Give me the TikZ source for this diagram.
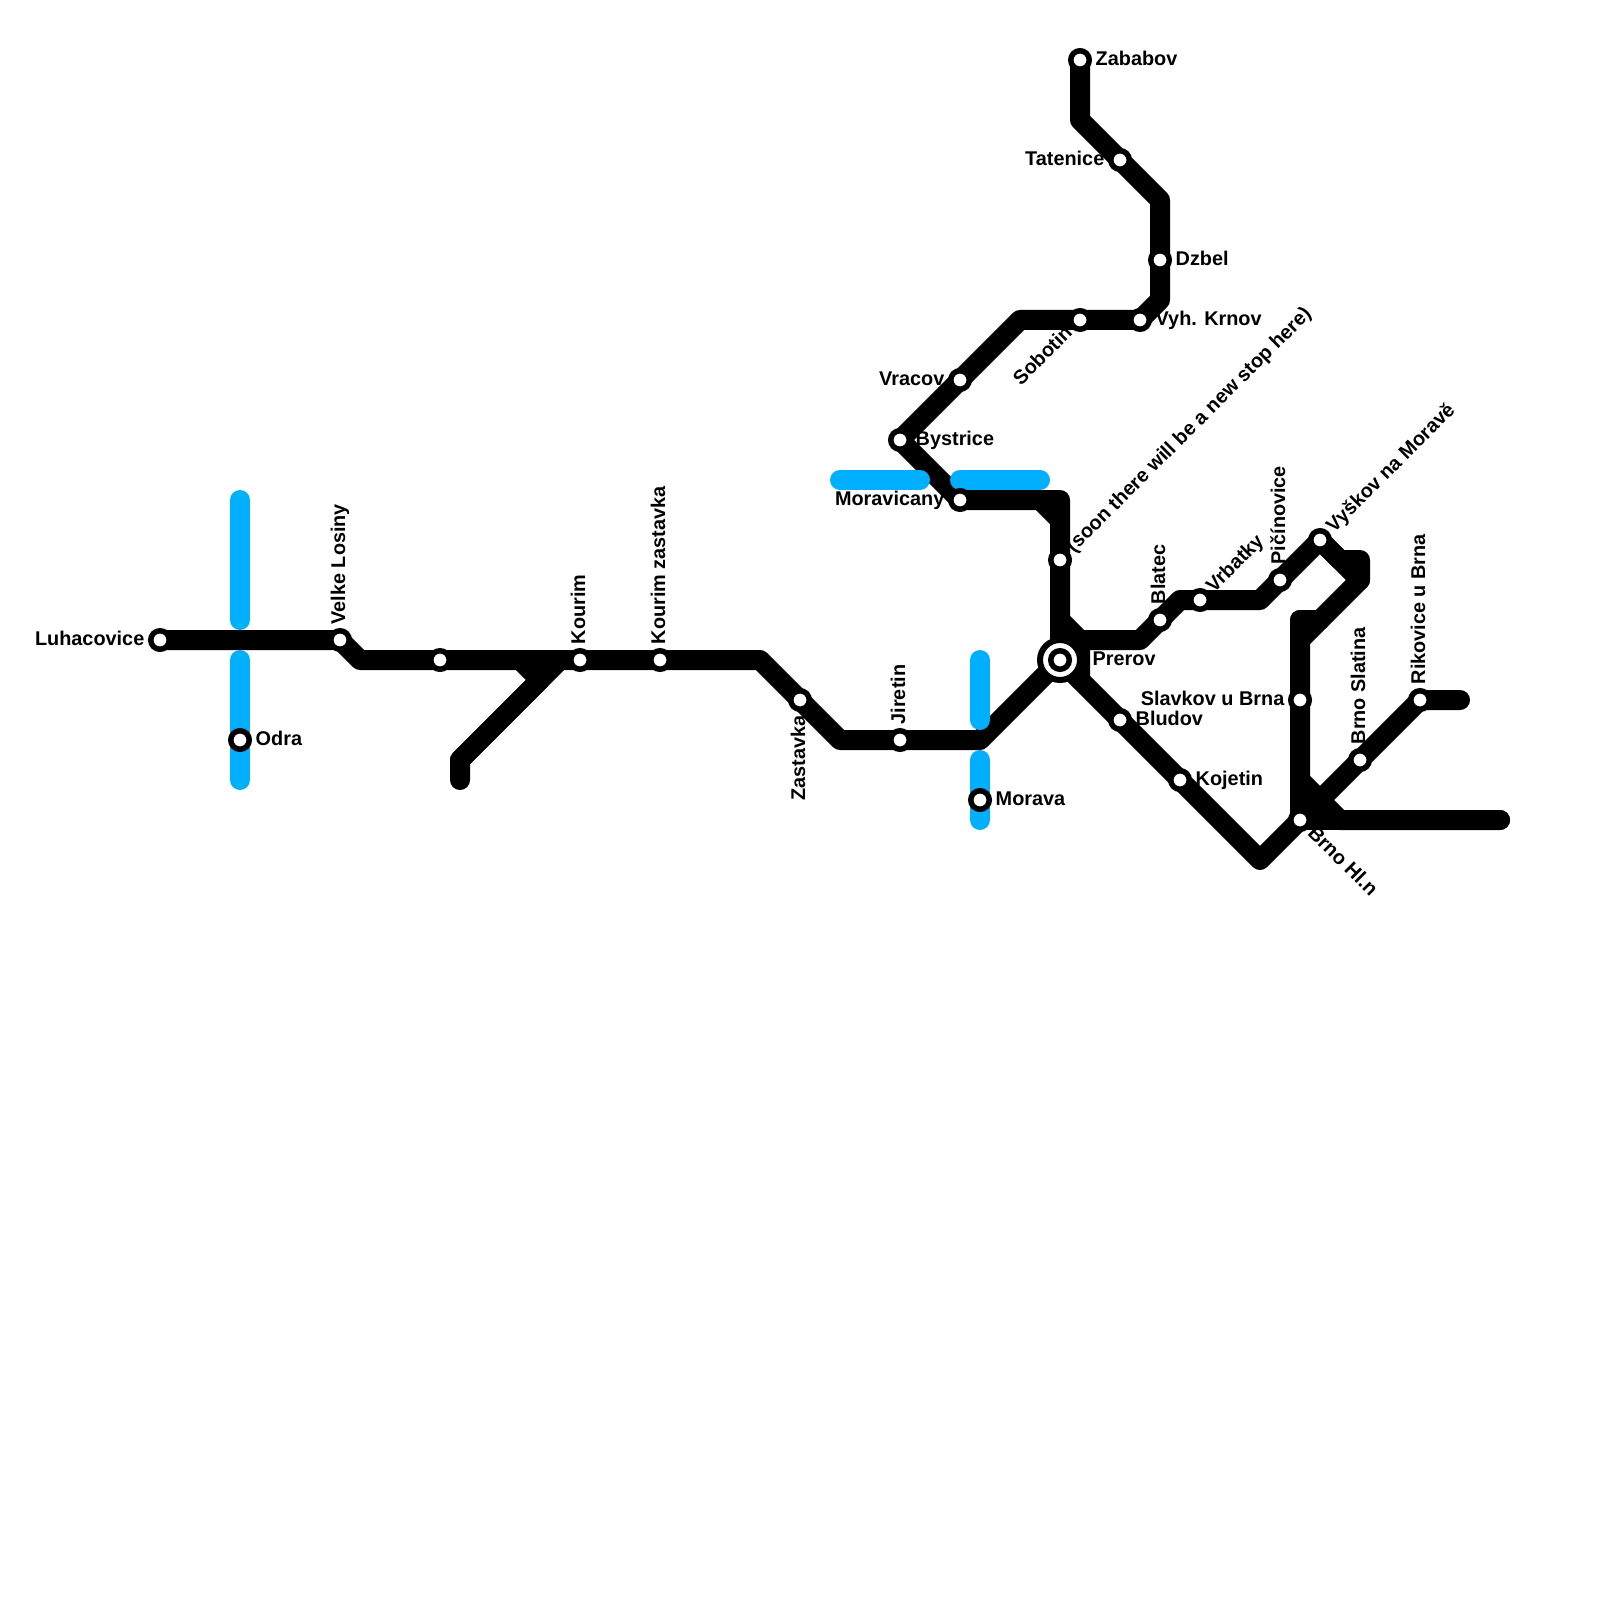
\documentclass[tikz,border=0pt]{standalone}
\usepackage{xcolor}
\usepackage{fontspec}
\setmainfont{Liberation Sans}
\usepackage{tikz}
\usetikzlibrary{positioning}
\definecolor{riverblue}{RGB}{0,176,255}
\tikzset{
  railline/.style={
    draw=black,
    line width=2mm,
    line cap=round,
    line join=round
  },
  riverline/.style={
    draw=riverblue,
    line width=2mm,
    line cap=round,
    line join=round
  },
  station/.style={
    circle,
    draw=black,
    fill=white,
    line width=0.55mm,
    minimum size=1.85mm,
    inner sep=0pt
  },
  hubring/.style={
    circle,
    draw=black,
    fill=white,
    line width=0.6mm,
    minimum size=4mm,
    inner sep=0pt
  },
  stationlabel/.style={
    font=\fontsize{5.65}{7}\selectfont\bfseries,
    inner sep=0pt,
    text height=1.45mm,
    text depth=0.42mm
  }
}

\begin{document}
\begin{tikzpicture}[x=2mm, y=-2mm]
  \useasboundingbox (0,0) rectangle (80,80);

  % --- BENDS ---
  \coordinate (B1) at (18,33);
  \coordinate (B2) at (38,33);
  \coordinate (B3) at (42,37);
  \coordinate (B4) at (49,37);
  \coordinate (B5) at (26,33);
  \coordinate (B6) at (27,34);
  \coordinate (B7) at (28,33);
  \coordinate (B8) at (23,38);
  \coordinate (B9) at (23,39);
  \coordinate (N1) at (53,25);
  \coordinate (N2) at (52,25);
  \coordinate (N3) at (53,26);
  \coordinate (N4) at (51,16);
  \coordinate (N5) at (58,15);
  \coordinate (N6) at (58,10);
  \coordinate (N7) at (54,6);
  \coordinate (E1) at (53,31);
  \coordinate (E2) at (54,32);
  \coordinate (E3) at (57,32);
  \coordinate (E4) at (59,30);
  \coordinate (E5) at (63,30);
  \coordinate (E6) at (67,28);
  \coordinate (E7) at (68,28);
  \coordinate (E8) at (68,29);
  \coordinate (E9) at (65,32);
  \coordinate (E10) at (65,31);
  \coordinate (E11) at (66,31);
  \coordinate (S1) at (54,34);
  \coordinate (S2) at (63,43);
  \coordinate (S3) at (65,39);
  \coordinate (S4) at (67,41);
  \coordinate (S5) at (75,41);
  \coordinate (S6) at (73,35);

  % --- BLUE LINE ENDS ---
  \coordinate (R1) at (12,25);
  \coordinate (R2) at (12,31);
  \coordinate (R3) at (12,33);
  \coordinate (R4) at (12,39);
  \coordinate (R5) at (42,24);
  \coordinate (R6) at (46,24);
  \coordinate (R7) at (48,24);
  \coordinate (R8) at (52,24);
  \coordinate (R9) at (49,33);
  \coordinate (R10) at (49,36);
  \coordinate (R11) at (49,38);
  \coordinate (R12) at (49,41);

  % --- BLACK LINES ---
  \draw[railline] (8,32) coordinate (L0) -- (17,32) coordinate (L1) -- (B1) -- (22,33) coordinate (L2) -- (29,33) coordinate (L3) -- (33,33) coordinate (L4) -- (B2) -- (40,35) coordinate (L5) -- (B3) -- (45,37) coordinate (L6) -- (B4) -- (53,33) coordinate (L7);
  \draw[railline] (B5) -- (B6) -- (B8) -- (B9);
  \draw[railline] (B7) -- (B8);

  % north branch
  \draw[railline] (L7) -- (53,28) coordinate (N8) -- (N1) -- (48,25) coordinate (N9) -- (45,22) coordinate (N10) -- (48,19) coordinate (N11) -- (N4) -- (54,16) coordinate (N12) -- (57,16) coordinate (N13) -- (N5) -- (58,13) coordinate (N14) -- (N6) -- (56,8) coordinate (N15) -- (N7) -- (54,3) coordinate (N16);
  \draw[railline] (N2) -- (N3);

  % east branch
  \draw[railline] (E1) -- (E2) -- (E3) -- (58,31) coordinate (E12) -- (E4) -- (60,30) coordinate (E13) -- (E5) -- (64,29) coordinate (E14) -- (66,27) coordinate (E15) -- (E6) -- (E7) -- (E8) -- (E9) -- (65,35) coordinate (E16) -- (65,41) coordinate (E17);
  \draw[railline] (E15) -- (E8);
  \draw[railline] (E10) -- (E11);
  \draw[railline] (E10) -- (E9);

  % south branch
  \draw[railline] (E2) -- (S1) -- (56,36) coordinate (S7) -- (59,39) coordinate (S8) -- (S2) -- (E17) -- (68,38) coordinate (S9) -- (71,35) coordinate (S10) -- (S6);
  \draw[railline] (L7) -- (S1);
  \draw[railline] (S3) -- (S4) -- (S5);
  \draw[railline] (E17) -- (S5);

  % --- BLUE LINES ---
  \draw[riverline] (R1) -- (R2);
  \draw[riverline] (R3) -- (R4);
  \draw[riverline] (R5) -- (R6);
  \draw[riverline] (R7) -- (R8);
  \draw[riverline] (R9) -- (R10);
  \draw[riverline] (R11) -- (R12);

  % --- STATIONS ---
  \node (luhacovice) [station] at (L0) {};
  \node (velkelosiny) [station] at (L1) {};
  \node (unnamed) [station] at (L2) {};
  \node (kourim) [station] at (L3) {};
  \node (kourimzast) [station] at (L4) {};
  \node (zastavka) [station] at (L5) {};
  \node (jiretin) [station] at (L6) {};
  \node (odra) [station] at (12,37) {};
  \node (morava) [station] at (49,40) {};
  \node (prerovring) [hubring] at (L7) {};
  \node (prerov) [station] at (L7) {};
  \node (soon) [station] at (N8) {};
  \node (moravicany) [station] at (N9) {};
  \node (bystrice) [station] at (N10) {};
  \node (vracov) [station] at (N11) {};
  \node (sobotin) [station] at (N12) {};
  \node (krnov) [station] at (N13) {};
  \node (dzbel) [station] at (N14) {};
  \node (tatenice) [station] at (N15) {};
  \node (zababov) [station] at (N16) {};
  \node (blatec) [station] at (E12) {};
  \node (vrbatky) [station] at (E13) {};
  \node (picinovice) [station] at (E14) {};
  \node (vyskov) [station] at (E15) {};
  \node (slavkov) [station] at (E16) {};
  \node (brnohl) [station] at (E17) {};
  \node (bludov) [station] at (S7) {};
  \node (kojetin) [station] at (S8) {};
  \node (slatina) [station] at (S9) {};
  \node (rikovice) [station] at (S10) {};

  % --- LABELS ---
  \node (luhacovice_t) [stationlabel, left=0.3mm of luhacovice] {Luhacovice};
  \node (odra_t) [stationlabel, right=0.3mm of odra] {Odra};
  \node (morava_t) [stationlabel, right=0.3mm of morava] {Morava};
  \node (prerov_t) [stationlabel, right=0.9mm of prerovring] {Prerov};
  \node (moravicany_t) [stationlabel, left=0.3mm of moravicany] {Moravicany};
  \node (bystrice_t) [stationlabel, right=0.3mm of bystrice] {Bystrice};
  \node (vracov_t) [stationlabel, left=0.3mm of vracov] {Vracov};
  \node (krnov_t) [stationlabel, right=0.3mm of krnov] {Vyh. Krnov};
  \node (dzbel_t) [stationlabel, right=0.3mm of dzbel] {Dzbel};
  \node (tatenice_t) [stationlabel, left=0.3mm of tatenice] {Tatenice};
  \node (zababov_t) [stationlabel, right=0.3mm of zababov] {Zababov};
  \node (slavkov_t) [stationlabel, left=0.3mm of slavkov] {Slavkov u Brna};
  \node (bludov_t) [stationlabel, right=0.3mm of bludov] {Bludov};
  \node (kojetin_t) [stationlabel, right=0.3mm of kojetin] {Kojetin};

  \node (velkelosiny_t) [stationlabel, above=0.3mm of velkelosiny, rotate=90, anchor=west] {Velke Losiny};
  \node (kourim_t) [stationlabel, above=0.3mm of kourim, rotate=90, anchor=west] {Kourim};
  \node (kourimzast_t) [stationlabel, above=0.3mm of kourimzast, rotate=90, anchor=west] {Kourim zastavka};
  \node (jiretin_t) [stationlabel, above=0.3mm of jiretin, rotate=90, anchor=west] {Jiretin};
  \node (blatec_t) [stationlabel, above=0.3mm of blatec, rotate=90, anchor=west] {Blatec};
  \node (picinovice_t) [stationlabel, above=0.3mm of picinovice, rotate=90, anchor=west] {Pičínovice};
  \node (slatina_t) [stationlabel, above=0.3mm of slatina, rotate=90, anchor=west] {Brno Slatina};
  \node (rikovice_t) [stationlabel, above=0.3mm of rikovice, rotate=90, anchor=west] {Rikovice u Brna};
  \node (zastavka_t) [stationlabel, below=0.3mm of zastavka, rotate=90, anchor=east] {Zastavka};

  \node (soon_t) [stationlabel, above right=0.2mm of soon, rotate=45, anchor=west] {(soon there will be a new stop here)};
  \node (vrbatky_t) [stationlabel, above right=0.2mm of vrbatky, rotate=45, anchor=west] {Vrbatky};
  \node (vyskov_t) [stationlabel, above right=0.2mm of vyskov, rotate=45, anchor=west] {Vyškov na Moravě};
  \node (sobotin_t) [stationlabel, below left=0.2mm of sobotin, rotate=45, anchor=east] {Sobotin};
  \node (brnohl_t) [stationlabel, below right=0.2mm of brnohl, rotate=-45, anchor=west] {Brno Hl.n};

\end{tikzpicture}
\end{document}
